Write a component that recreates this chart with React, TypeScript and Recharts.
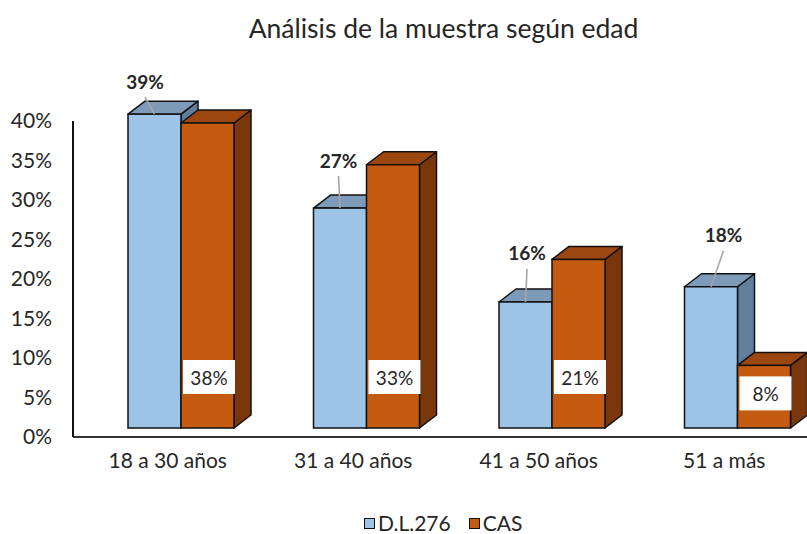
import React from 'react';
import { BarChart, Bar, XAxis, YAxis, LabelList, Legend } from 'recharts';

const categories = ['18 a 30 años', '31 a 40 años', '41 a 50 años', '51 a más'];
const dl276Values = [0.391, 0.274, 0.157, 0.176];
const casValues = [0.38, 0.328, 0.21, 0.078];
const yTicks = [0, 0.05, 0.1, 0.15, 0.2, 0.25, 0.3, 0.35, 0.4];
const seriesNames = ['D.L.276', 'CAS'];
const chartTitle = 'Análisis de la muestra según edad';

const data = categories.map((c, i) => ({ cat: c, dl: dl276Values[i], cas: casValues[i] }));

const FONT = 'Lato, "Open Sans", sans-serif';
const TEXT = '#262626';
// 3D look parameters
const DX = 13;
const DY = 9;
const DEPTH_X = 17;
const DEPTH_Y = 13;
const PERSP = 1.016;
const DL_NUDGE = [[-9.5, -33], [-1.5, -48], [1.5, -49], [12.5, -52]];

const BLUE = { front: '#9DC3E6', top: '#7D9BB8', side: '#617F9B' };
const ORANGE = { front: '#C55A11', top: '#9C4610', side: '#7A370B' };

const pct = (v: number) => `${Math.round(v * 100)}%`;

function geom(x: number, y: number, width: number, height: number) {
  const bottom = y + height - DY;
  const h = height * PERSP;
  const fx = x + DX;
  const fy = bottom - h;
  return { fx, fy, w: width, h, bottom };
}

function Bar3D(props: any) {
  const { x, y, width, height, colors } = props;
  if (x == null || height == null || width == null) return null;
  const { fx, fy, w, h, bottom } = geom(x, y, width, height);
  const topPts = `${fx},${fy} ${fx + w},${fy} ${fx + w + DEPTH_X},${fy - DEPTH_Y} ${fx + DEPTH_X},${fy - DEPTH_Y}`;
  const sidePts = `${fx + w},${fy} ${fx + w + DEPTH_X},${fy - DEPTH_Y} ${fx + w + DEPTH_X},${bottom - DEPTH_Y} ${fx + w},${bottom}`;
  return (
    <g>
      <polygon points={sidePts} fill={colors.side} stroke="#111" strokeWidth={1.5} strokeLinejoin="round" />
      <polygon points={topPts} fill={colors.top} stroke="#111" strokeWidth={1.5} strokeLinejoin="round" />
      <rect x={fx} y={fy} width={w} height={h} fill={colors.front} stroke="#111" strokeWidth={1.5} />
    </g>
  );
}

function readBox(props: any) {
  const vb = props.viewBox && props.viewBox.width != null ? props.viewBox : props;
  return { x: vb.x, y: vb.y, width: vb.width, height: vb.height };
}

function DlLabel(props: any) {
  const { value, index } = props;
  const { x, y, width, height } = readBox(props);
  if (x == null) return null;
  const { fx, fy, w } = geom(x, y, width, height);
  const cx = fx + w / 2;
  const [ndx, ndy] = DL_NUDGE[index] || [0, -40];
  const lx = cx + ndx;
  const ly = fy + ndy;
  return (
    <g>
      <line x1={lx} y1={ly + 16} x2={cx} y2={fy} stroke="#A6A6A6" strokeWidth={1.6} />
      <text x={lx} y={ly} textAnchor="middle" dominantBaseline="central" fontFamily={FONT} fontWeight="bold" fontSize={19} fill={TEXT}>
        {pct(value)}
      </text>
    </g>
  );
}

function CasLabel(props: any) {
  const { value } = props;
  const { x, y, width, height } = readBox(props);
  if (x == null) return null;
  const { fx, fy, w, bottom } = geom(x, y, width, height);
  const cy = Math.max(bottom - 51, fy + 28);
  const bw = 52;
  const bh = 34;
  const bx = fx + 2;
  return (
    <g>
      <rect x={bx} y={cy - bh / 2} width={bw} height={bh} fill="#FFFFFF" />
      <text x={bx + bw / 2} y={cy} textAnchor="middle" dominantBaseline="central" fontFamily={FONT} fontSize={19} fill={TEXT}>
        {pct(value)}
      </text>
    </g>
  );
}

function LegendContent() {
  const items = [
    { name: seriesNames[0], color: BLUE.front },
    { name: seriesNames[1], color: ORANGE.front },
  ];
  return (
    <div style={{ position: 'absolute', left: 364, top: 0, display: 'flex', alignItems: 'center', height: 22, lineHeight: '22px', fontFamily: FONT, fontSize: 21, color: TEXT }}>
      {items.map((it, i) => (
        <div key={it.name} style={{ display: 'flex', alignItems: 'center', marginRight: i === 0 ? 18 : 0 }}>
          <div style={{ width: 9, height: 9, background: it.color, border: '1.5px solid #111', marginRight: 3 }} />
          <span>{it.name}</span>
        </div>
      ))}
    </div>
  );
}

export default function App() {
  return (
    <div style={{ position: 'absolute', left: 0, top: 0, width: 807, height: 534, overflow: 'hidden', background: '#fff' }}>
      <div style={{ position: 'absolute', left: 0, top: 11, width: 887, textAlign: 'center', fontFamily: FONT, fontSize: 26.5, lineHeight: '34px', color: TEXT, zIndex: 2 }}>
        {chartTitle}
      </div>
      <BarChart width={830} height={534} data={data} margin={{ top: 121, right: 13, left: 0, bottom: 15 }} barGap={0} barSize={53}>
        <XAxis
          dataKey="cat"
          padding={{ left: 2, right: 0 }}
          axisLine={{ stroke: '#333', strokeWidth: 2 }}
          tickLine={false}
          tickSize={0}
          tickMargin={16}
          height={60}
          interval={0}
          tick={{ fontFamily: FONT, fontSize: 21, fill: TEXT }}
        />
        <YAxis
          width={73}
          domain={[0, 0.4]}
          ticks={yTicks}
          tickFormatter={(v: number) => pct(v)}
          axisLine={{ stroke: '#111', strokeWidth: 2 }}
          tickLine={false}
          tickSize={0}
          tickMargin={21}
          interval={0}
          tick={{ fontFamily: FONT, fontSize: 21, fill: TEXT }}
        />
        <Legend
          verticalAlign="bottom"
          content={() => <LegendContent />}
          wrapperStyle={{ position: 'absolute', left: 0, top: 512, bottom: 'auto', width: 807, height: 22 }}
        />
        <Bar dataKey="dl" name={seriesNames[0]} isAnimationActive={false} shape={(p: any) => <Bar3D {...p} colors={BLUE} />}>
          <LabelList dataKey="dl" content={(p: any) => <DlLabel {...p} />} />
        </Bar>
        <Bar dataKey="cas" name={seriesNames[1]} isAnimationActive={false} shape={(p: any) => <Bar3D {...p} colors={ORANGE} />}>
          <LabelList dataKey="cas" content={(p: any) => <CasLabel {...p} />} />
        </Bar>
      </BarChart>
    </div>
  );
}
